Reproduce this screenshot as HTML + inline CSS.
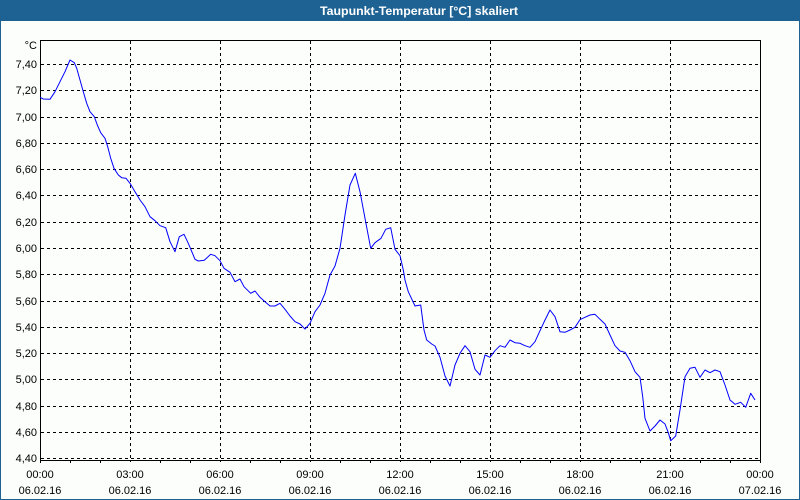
<!DOCTYPE html>
<html><head><meta charset="utf-8">
<style>
html,body{margin:0;padding:0;background:#fcfefc;}
svg{display:block;}
text{font-family:"Liberation Sans",Arial,sans-serif;font-size:11px;fill:#000;}
</style></head>
<body>
<svg width="800" height="500" viewBox="0 0 800 500" xmlns="http://www.w3.org/2000/svg">
<rect x="0" y="0" width="800" height="500" fill="#fcfefc"/>
<!-- frame -->
<rect x="0" y="0" width="800" height="21" fill="#1e6294"/>
<rect x="0" y="0" width="1" height="500" fill="#1e6294"/>
<rect x="799" y="0" width="1" height="500" fill="#1e6294"/>
<rect x="0" y="499" width="800" height="1" fill="#1e6294"/>
<text x="419" y="15" text-anchor="middle" style="font-weight:bold;font-size:12px;fill:#fff" textLength="198" lengthAdjust="spacingAndGlyphs">Taupunkt-Temperatur [°C] skaliert</text>

<g stroke="#000" stroke-width="1" stroke-dasharray="3,3" shape-rendering="crispEdges" fill="none">
<line x1="41" y1="64.5" x2="760" y2="64.5"/>
<line x1="41" y1="90.5" x2="760" y2="90.5"/>
<line x1="41" y1="117.5" x2="760" y2="117.5"/>
<line x1="41" y1="143.5" x2="760" y2="143.5"/>
<line x1="41" y1="169.5" x2="760" y2="169.5"/>
<line x1="41" y1="195.5" x2="760" y2="195.5"/>
<line x1="41" y1="222.5" x2="760" y2="222.5"/>
<line x1="41" y1="248.5" x2="760" y2="248.5"/>
<line x1="41" y1="274.5" x2="760" y2="274.5"/>
<line x1="41" y1="301.5" x2="760" y2="301.5"/>
<line x1="41" y1="327.5" x2="760" y2="327.5"/>
<line x1="41" y1="353.5" x2="760" y2="353.5"/>
<line x1="41" y1="379.5" x2="760" y2="379.5"/>
<line x1="41" y1="406.5" x2="760" y2="406.5"/>
<line x1="41" y1="432.5" x2="760" y2="432.5"/>
<line x1="41" y1="458.5" x2="760" y2="458.5"/>
<line x1="130.5" y1="41" x2="130.5" y2="462"/>
<line x1="220.5" y1="41" x2="220.5" y2="462"/>
<line x1="310.5" y1="41" x2="310.5" y2="462"/>
<line x1="400.5" y1="41" x2="400.5" y2="462"/>
<line x1="490.5" y1="41" x2="490.5" y2="462"/>
<line x1="580.5" y1="41" x2="580.5" y2="462"/>
<line x1="670.5" y1="41" x2="670.5" y2="462"/>
</g>

<g stroke="#000" stroke-width="1" shape-rendering="crispEdges" fill="none">
<rect x="40.5" y="40.5" width="720" height="420"/>
<path d="M70.5 460v3M100.5 460v3M160.5 460v3M190.5 460v3M250.5 460v3M280.5 460v3M340.5 460v3M370.5 460v3M430.5 460v3M460.5 460v3M520.5 460v3M550.5 460v3M610.5 460v3M640.5 460v3M700.5 460v3M730.5 460v3M40.5 460v3M760.5 460v3"/>
</g>

<polyline fill="none" stroke="#0000ff" stroke-width="1" stroke-linejoin="round" points="40,97.3 43.3,99 50,99.3 55,91.7 60,81.7 65,71.7 70,60 74.3,62.7 76.7,68.3 80,80 83.3,91.7 86.7,103.3 90,111.7 94.3,116.7 97.3,125 100.7,132.7 105,138.3 107.7,146.7 110.7,158.3 114,168.3 118.3,175 121.7,177.7 126,178.3 130,183.3 135,191.7 140,200 145,206.7 150,216.7 155,220.7 160,225.7 165.7,227.7 170,241.7 175,251.7 179.3,236.7 184,234.3 188.3,243.3 195,259.3 198.3,261 204.3,260.3 210.7,254.3 215,255.7 220,260.7 224,268.3 230,272.3 235,281.7 240,279 244,286.7 250.7,293.3 255,291 260,297.3 265,301.7 270,306 275,306 280,303.3 285,309.3 290,316 295,321.7 300,324 305,329 310,323.3 315,311.7 320,305 325,293.3 330,275 335,266 340,248.3 345,215 350,185 355.3,173.3 360,191.7 365,218.3 370.7,248.3 375,242.7 381,238.3 385.7,229.3 390.7,227.7 395,249.3 400,255.7 403.3,270 405,280 408.3,291.7 415,306 420.7,305 424,330 426.7,340 431.7,344 435,346 440,357.3 445,376 450,386 455,365 460,353.3 465,345.7 470,351.7 475,369.3 480,375 485,355 490,357.3 495,350.7 500,345.7 505,347.3 510,340 515,342.7 520,343.3 525,345.7 530,347.3 535,341.7 540,330.7 545,320 550,310 555,316.7 560,331.7 565,332.3 570,330 575,327.3 580,319.6 585,317.3 590,315 595,314.3 600,319.3 605,324 610,335 615,345.7 620,351 625,352.3 630,360.7 635,371.7 640,377.3 642.7,396.7 645,418.3 650,431 655,426 660,420 665,424 668.3,432.7 670.7,440.7 675.7,436 680,410 685,376.7 690,368.3 695,367.3 700,377.3 705,370 710,372.7 715,370 720,371.7 725,385 730,400 735,404.3 740.7,402.3 745.7,407.3 750.7,393.3 755,400"/>

<g text-anchor="end">
<text x="37" y="49">°C</text>
<text x="37" y="68">7,40</text>
<text x="37" y="94">7,20</text>
<text x="37" y="121">7,00</text>
<text x="37" y="147">6,80</text>
<text x="37" y="173">6,60</text>
<text x="37" y="199">6,40</text>
<text x="37" y="226">6,20</text>
<text x="37" y="252">6,00</text>
<text x="37" y="278">5,80</text>
<text x="37" y="305">5,60</text>
<text x="37" y="331">5,40</text>
<text x="37" y="357">5,20</text>
<text x="37" y="383">5,00</text>
<text x="37" y="410">4,80</text>
<text x="37" y="436">4,60</text>
<text x="37" y="462">4,40</text>
</g>

<g text-anchor="middle">
<text x="40" y="478">00:00</text><text x="40" y="494">06.02.16</text>
<text x="130" y="478">03:00</text><text x="130" y="494">06.02.16</text>
<text x="220" y="478">06:00</text><text x="220" y="494">06.02.16</text>
<text x="310" y="478">09:00</text><text x="310" y="494">06.02.16</text>
<text x="400" y="478">12:00</text><text x="400" y="494">06.02.16</text>
<text x="490" y="478">15:00</text><text x="490" y="494">06.02.16</text>
<text x="580" y="478">18:00</text><text x="580" y="494">06.02.16</text>
<text x="670" y="478">21:00</text><text x="670" y="494">06.02.16</text>
<text x="760" y="478">00:00</text><text x="760" y="494">07.02.16</text>
</g>
</svg>
</body></html>
